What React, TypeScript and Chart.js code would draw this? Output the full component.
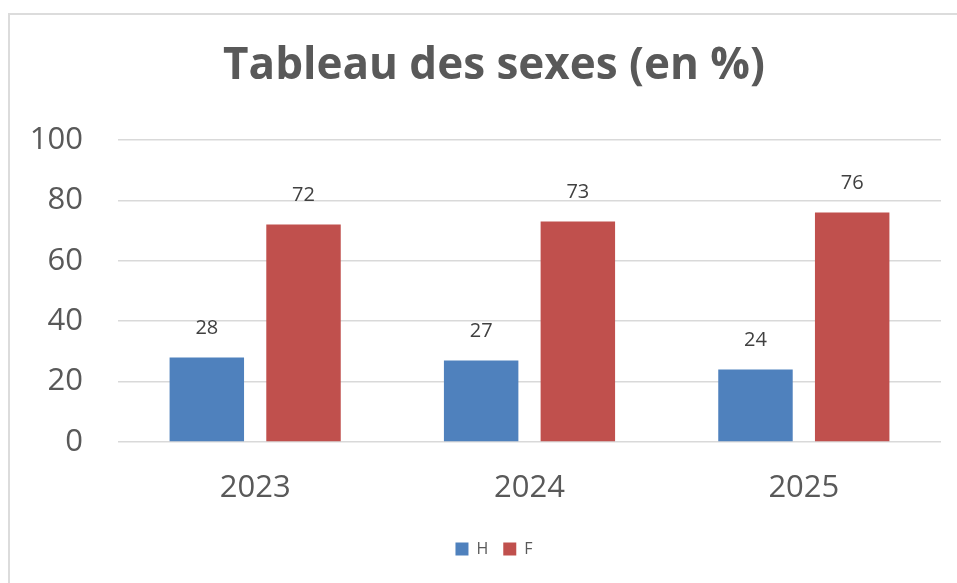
import React, { useEffect, useRef } from "react";
import { Chart, registerables } from "chart.js";

Chart.register(...registerables);

const categories = ["2023", "2024", "2025"];
const seriesH = [28, 27, 24];
const seriesF = [72, 73, 76];
const seriesNames = ["H", "F"];
const yTicks = [0, 20, 40, 60, 80, 100];
const titleText = "Tableau des sexes (en %)";

const FONT = "'Open Sans', 'DejaVu Sans', sans-serif";
const GRAY = "#595959";

const dataLabelPlugin = {
  id: "dataLabels",
  afterDatasetsDraw(chart: any) {
    const ctx = chart.ctx;
    ctx.save();
    ctx.font = `20px ${FONT}`;
    ctx.fillStyle = "#404040";
    ctx.textAlign = "center";
    ctx.textBaseline = "middle";
    chart.data.datasets.forEach((ds: any, di: number) => {
      const meta = chart.getDatasetMeta(di);
      meta.data.forEach((bar: any, i: number) => {
        ctx.fillText(String(ds.data[i]), bar.x, bar.y - 29);
      });
    });
    ctx.restore();
  },
};

export default function App() {
  const ref = useRef<HTMLCanvasElement | null>(null);

  useEffect(() => {
    if (!ref.current) return;
    const chart = new Chart(ref.current, {
      type: "bar",
      data: {
        labels: categories,
        datasets: [
          {
            label: seriesNames[0],
            data: seriesH,
            backgroundColor: "#4F81BD",
            barPercentage: 0.77,
            categoryPercentage: 0.705,
          },
          {
            label: seriesNames[1],
            data: seriesF,
            backgroundColor: "#C0504D",
            barPercentage: 0.77,
            categoryPercentage: 0.705,
          },
        ],
      },
      options: {
        responsive: false,
        animation: false,
        layout: { padding: { top: 10, left: 20, right: 0, bottom: 16 } },
        plugins: {
          title: {
            display: true,
            text: titleText,
            color: GRAY,
            font: { family: FONT, size: 44, weight: "bold", lineHeight: 1.2 },
            padding: { top: 29.6, bottom: 47.6 },
          },
          legend: {
            position: "bottom",
            labels: {
              boxWidth: 13,
              boxHeight: 13,
              padding: 15,
              color: GRAY,
              font: { family: FONT, size: 16 },
            },
          },
          tooltip: { enabled: false },
        },
        scales: {
          x: {
            grid: { display: false, drawTicks: false },
            border: { display: false },
            ticks: { color: GRAY, font: { family: FONT, size: 31 }, padding: 28 },
            afterFit(scale: any) {
              scale.height = 84;
            },
          },
          y: {
            min: 0,
            max: 100,
            afterBuildTicks(scale: any) {
              scale.ticks = yTicks.map((v) => ({ value: v }));
            },
            grid: { color: "#d9d9d9", lineWidth: 1.5, drawTicks: false },
            border: { display: false },
            ticks: { color: GRAY, font: { family: FONT, size: 31 }, padding: 35 },
            afterFit(scale: any) {
              scale.width = 98;
            },
          },
          y2: {
            type: "linear",
            position: "right",
            display: true,
            grid: { display: false, drawTicks: false },
            border: { display: false },
            ticks: { display: false },
            afterFit(scale: any) {
              scale.width = 27;
            },
          },
        },
      },
      plugins: [dataLabelPlugin],
    });
    return () => chart.destroy();
  }, []);

  return (
    <div
      style={{
        position: "fixed",
        left: 0,
        top: 0,
        width: 957,
        height: 583,
        overflow: "hidden",
        background: "#fff",
      }}
    >
      <div
        style={{
          position: "absolute",
          left: 8,
          top: 13,
          width: 970,
          height: 600,
          border: "2px solid #dcdcdc",
          boxSizing: "border-box",
        }}
      />
      <canvas ref={ref} width={968} height={583} style={{ position: "absolute", left: 0, top: 0 }} />
    </div>
  );
}
